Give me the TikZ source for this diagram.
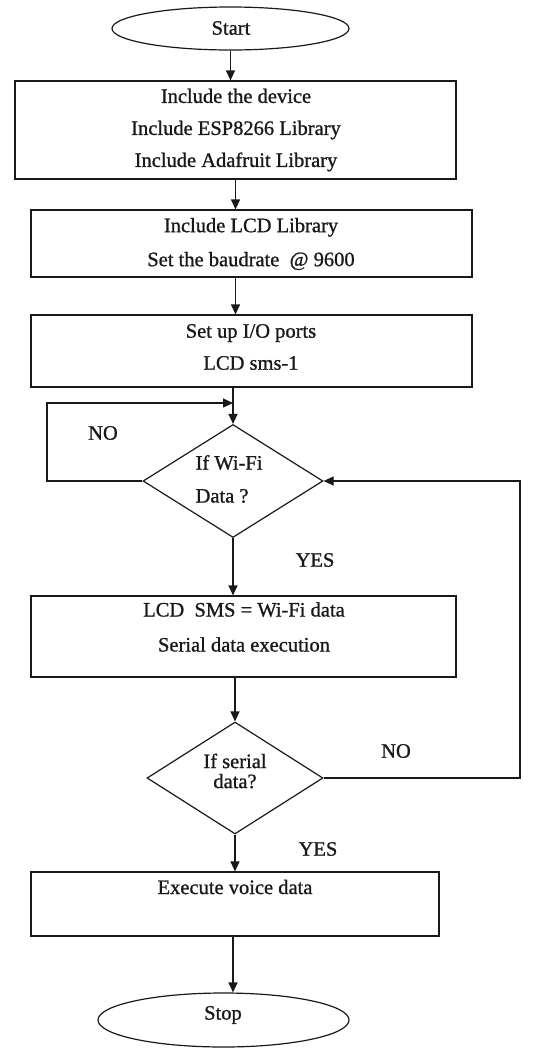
\documentclass[tikz,border=0pt]{standalone}
\usepackage{fontspec}
\setmainfont{Liberation Serif}[FakeBold=1]
\usetikzlibrary{shapes.geometric,arrows.meta}
\begin{document}
\begin{tikzpicture}[x=1pt,y=-1pt, line width=1.2pt, color={black!90},
 arr/.style={-{Triangle[length=10pt,width=9pt]}},
 box/.style={draw, rectangle, inner sep=0pt},
 ell/.style={draw, ellipse, inner sep=0pt},
 dia/.style={draw, diamond, inner sep=0pt},
 txt/.style={font=\fontsize{20.5}{32}\selectfont, align=center, inner sep=0pt},
 lbl/.style={font=\fontsize{20.5}{24}\selectfont, inner sep=0pt}]
\useasboundingbox (0,0) rectangle (534,1050);
% shapes
\node[ell, minimum width=237, minimum height=43] (start) at (230.5,28.5) {};
\node[box, minimum width=441, minimum height=98] (b1) at (235.5,130) {};
\node[box, minimum width=441, minimum height=67] (b2) at (251.5,243.5) {};
\node[box, minimum width=441, minimum height=72] (b3) at (251.5,351) {};
\node[dia, minimum width=180, minimum height=113] (d1) at (233,481) {};
\node[box, minimum width=425, minimum height=81] (b4) at (243.5,636.5) {};
\node[dia, minimum width=176, minimum height=112] (d2) at (235,778) {};
\node[box, minimum width=408, minimum height=64] (b5) at (235,904) {};
\node[ell, minimum width=251, minimum height=54] (stop) at (223.5,1020) {};
% texts
\node[txt] (tstart) at (231,28) {Start};
\node[txt] (t1) at (236,130) {Include the device\\Include ESP8266 Library\\Include Adafruit Library};
\node[txt, font=\fontsize{20.5}{34}\selectfont] (t2) at (251,244) {Include LCD Library\\Set the baudrate\ \ @ 9600};
\node[txt] (t3) at (251,347) {Set up I/O ports\\LCD sms-1};
\node[txt, align=left, anchor=west, font=\fontsize{20.5}{33}\selectfont] (td1) at (195,479) {If Wi-Fi\\Data ?};
\node[txt, font=\fontsize{20.5}{35}\selectfont] (t4) at (244,627) {LCD\ \ SMS = Wi-Fi data\\Serial data execution};
\node[txt, font=\fontsize{20.5}{20}\selectfont] (td2) at (235,771) {If serial\\data?};
\node[txt] (t5) at (235,887) {Execute voice data};
\node[txt] (tstop) at (223,1015) {Stop};
% labels
\node[lbl] (no1) at (103,433) {NO};
\node[lbl] (yes1) at (315,560) {YES};
\node[lbl] (no2) at (396,751) {NO};
\node[lbl] (yes2) at (318,849) {YES};
% connectors
\draw[arr] (start.south) -- (start.south |- b1.north);
\draw[arr] (b1.south) -- (b1.south |- b2.north);
\draw[arr] (b2.south -| b1.south) -- (b3.north -| b1.south);
\draw[arr] (b3.south -| d1.north) -- (d1.north);
\draw[arr] (d1.south) -- (d1.south |- b4.north);
\draw[arr] (b4.south -| d2.north) -- (d2.north);
\draw[arr] (d2.south) -- (d2.south |- b5.north);
\draw[arr] (b5.south -| d1.south) -- (stop.north -| d1.south);
\coordinate (lc) at (47,403);
\coordinate (j1) at (d1.north |- lc);
\draw[arr] (d1.west) -| (lc) -- (j1);
\coordinate (rc) at (520,481);
\draw[arr] (d2.east) -| (rc) -- (d1.east);
\end{tikzpicture}
\end{document}
